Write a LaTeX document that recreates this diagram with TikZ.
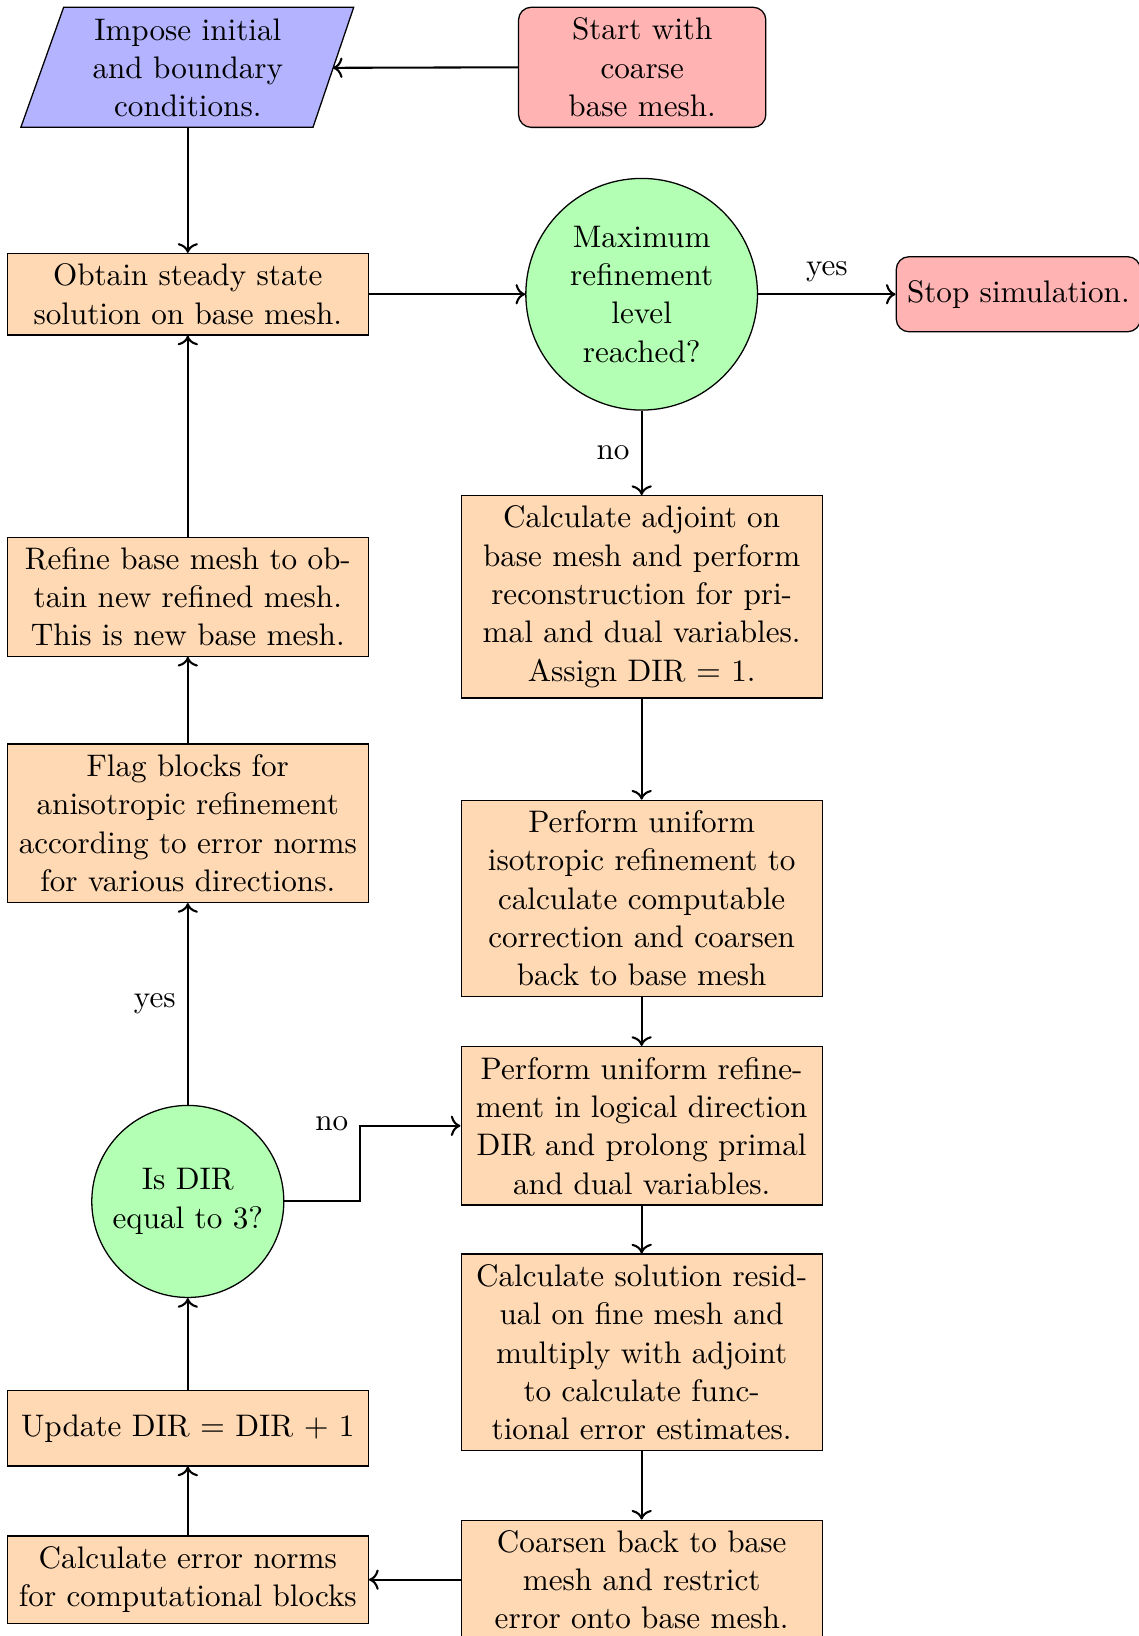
\documentclass[tikz,border=0pt]{standalone}
\usetikzlibrary{arrows.meta}
\definecolor{cblue}{RGB}{179,179,255}
\definecolor{cred}{RGB}{255,179,179}
\definecolor{cgreen}{RGB}{179,255,179}
\definecolor{corange}{RGB}{255,217,179}
\tikzset{
  txt/.style={font=\fontsize{9.75pt}{12pt}\selectfont},
  base/.style={txt, draw=black, line width=0.4pt, align=center, inner sep=0pt},
  procbox/.style={base, rectangle, fill=corange, minimum width=113pt},
  termbox/.style={base, rectangle, rounded corners=4pt, fill=cred},
  decbox/.style={base, circle, fill=cgreen},
  conn/.style={->, line width=0.65pt},
  lbl/.style={txt, inner sep=0pt}
}
\begin{document}
\begin{tikzpicture}[x=0.326531pt, y=-0.326531pt]
\useasboundingbox (0,0) rectangle (1091,1568);
% parallelogram
\fill[cblue, draw=black, line width=0.4pt] (61,7) -- (339,7) -- (300,122) -- (20,122) -- cycle;
\node[txt, align=center, inner sep=0pt] (imp) at (180,65) {Impose initial\\and boundary\\conditions.};
\coordinate (impR) at (319,65);
\coordinate (impB) at (180,122);

\node[termbox, minimum width=77.4pt, minimum height=37.6pt] (start) at (615.5,64.5) {Start with\\coarse\\base mesh.};
\node[procbox, minimum height=25.5pt] (obtain) at (180,282) {Obtain steady state\\solution on base mesh.};
\node[decbox, minimum size=72.5pt] (maxr) at (615,282) {Maximum\\refinement\\level\\reached?};
\node[termbox, minimum width=76.4pt, minimum height=23.5pt] (stop) at (976,282) {Stop simulation.};
\node[procbox, minimum height=63.3pt] (adj) at (615,572) {Calculate adjoint on\\base mesh and perform\\reconstruction for pri-\\mal and dual variables.\\Assign DIR $=$ 1.};
\node[procbox, minimum height=37.2pt] (refine) at (180,572) {Refine base mesh to ob-\\tain new refined mesh.\\This is new base mesh.};
\node[procbox, minimum height=49.6pt] (flag) at (180,789) {Flag blocks for\\anisotropic refinement\\according to error norms\\for various directions.};
\node[procbox, minimum height=61.4pt] (iso) at (615,861) {Perform uniform\\isotropic refinement to\\calculate computable\\correction and coarsen\\back to base mesh};
\node[procbox, minimum height=49.6pt] (dirref) at (615,1079) {Perform uniform refine-\\ment in logical direction\\DIR and prolong primal\\and dual variables.};
\node[decbox, minimum size=60.1pt] (isdir) at (180,1151.5) {Is DIR\\equal to 3?};
\node[procbox, minimum height=61.4pt] (resid) at (615,1296) {Calculate solution resid-\\ual on fine mesh and\\multiply with adjoint\\to calculate func-\\tional error estimates.};
\node[procbox, minimum height=23.5pt] (update) at (180,1369) {Update DIR $=$ DIR $+$ 1};
\node[procbox, minimum height=27.4pt] (errn) at (180,1514) {Calculate error norms\\for computational blocks};
\node[procbox, minimum height=37.2pt] (coarsen) at (615,1514) {Coarsen back to base\\mesh and restrict\\error onto base mesh.};

% connectors
\draw[conn] (start.west) -- (impR);
\draw[conn] (impB) -- (obtain.north);
\draw[conn] (obtain.east) -- (maxr.west);
\draw[conn] (maxr.east) -- node[lbl, above=3.5pt] {yes} (stop.west);
\draw[conn] (maxr.south) -- node[lbl, left=3.5pt] {no} (adj.north);
\draw[conn] (adj.south) -- (iso.north);
\draw[conn] (iso.south) -- (dirref.north);
\draw[conn] (dirref.south) -- (resid.north);
\draw[conn] (resid.south) -- (coarsen.north);
\draw[conn] (coarsen.west) -- (errn.east);
\draw[conn] (errn.north) -- (update.south);
\draw[conn] (update.north) -- (isdir.south);
\coordinate (bend) at (345,1151.5);
\draw[conn] (isdir.east) -- (bend) |- (dirref.west);
\node[lbl] (nolbl) at (318,1077) {no};
\draw[conn] (isdir.north) -- node[lbl, left=3.5pt] {yes} (flag.south);
\draw[conn] (flag.north) -- (refine.south);
\draw[conn] (refine.north) -- (obtain.south);
\end{tikzpicture}
\end{document}
